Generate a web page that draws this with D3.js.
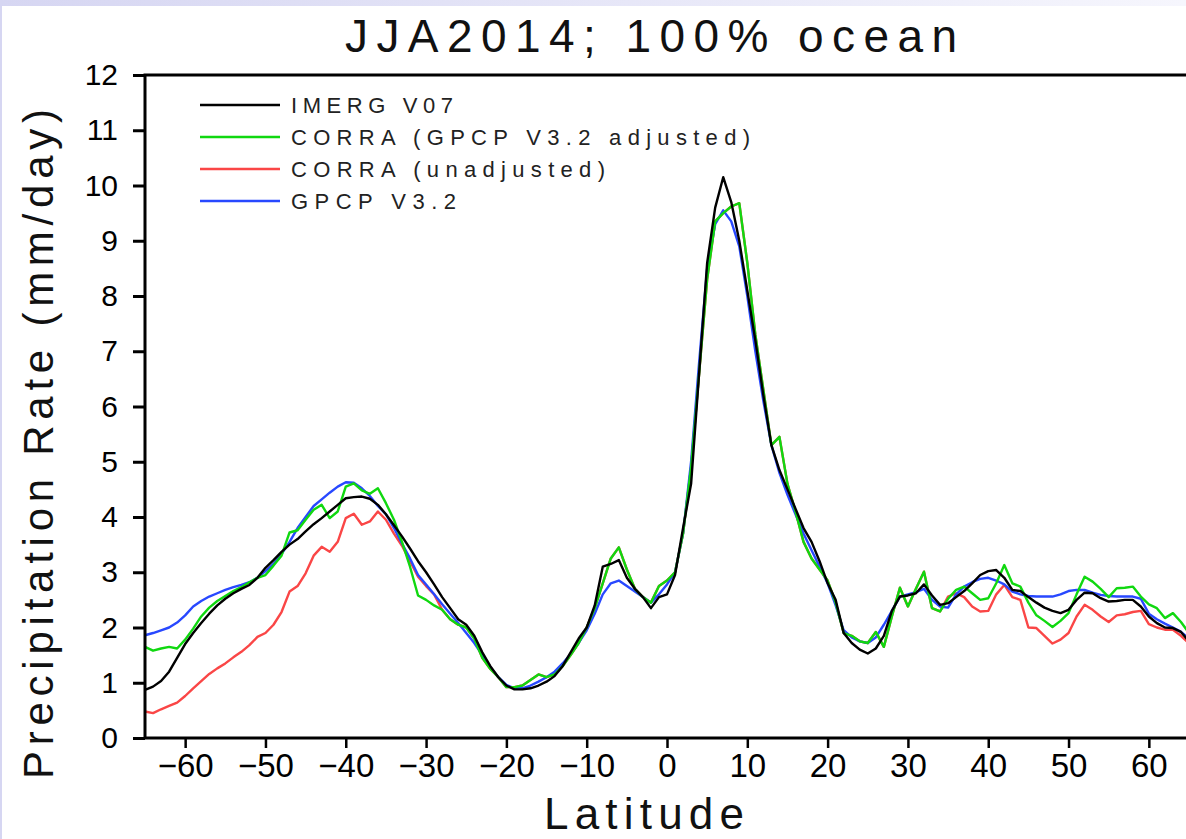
<!DOCTYPE html>
<html>
<head>
<meta charset="utf-8">
<script src="https://cdn.jsdelivr.net/npm/d3@7"></script>
<style>
  html, body { margin: 0; padding: 0; background: #fff; }
  svg { display: block; }
</style>
</head>
<body>
<div id="chart"></div>
<script>
// latitude grid, 1 degree, -65..65
const lats = d3.range(-65, 66, 1);

// IMERG V07
const imerg = [
  0.87, 0.93, 1.03, 1.2, 1.45, 1.7, 1.9, 2.08, 2.25, 2.4,
  2.52, 2.62, 2.7, 2.77, 2.9, 3.08, 3.22, 3.37, 3.5, 3.6,
  3.74, 3.87, 3.98, 4.1, 4.22, 4.34, 4.36, 4.37, 4.33, 4.22,
  4.05, 3.85, 3.65, 3.43, 3.2, 3.0, 2.78, 2.55, 2.35, 2.15,
  2.05, 1.85, 1.55, 1.3, 1.1, 0.95, 0.88, 0.88, 0.9, 0.95,
  1.02, 1.12, 1.3, 1.55, 1.8, 2.0, 2.4, 3.1, 3.15, 3.22,
  2.9, 2.7, 2.55, 2.35, 2.55, 2.6, 2.95, 3.8, 4.6, 6.6,
  8.6, 9.6, 10.15, 9.7, 9.0, 8.1, 7.2, 6.2, 5.3, 4.85,
  4.5, 4.15, 3.8, 3.55, 3.2, 2.8, 2.5, 1.9, 1.72, 1.6,
  1.53, 1.62, 1.85, 2.3, 2.56, 2.58, 2.62, 2.78, 2.58, 2.41,
  2.44, 2.55, 2.66, 2.8, 2.95, 3.02, 3.04, 2.9, 2.68, 2.66,
  2.55, 2.45, 2.36, 2.3, 2.26, 2.32, 2.5, 2.63, 2.62, 2.53,
  2.47, 2.48, 2.5, 2.5, 2.38, 2.2, 2.08, 2.0, 1.99, 1.92,
  1.75
];

// CORRA (GPCP V3.2 adjusted)
const corraAdj = [
  1.65, 1.58, 1.62, 1.65, 1.62, 1.78, 1.98, 2.2, 2.36, 2.48,
  2.57, 2.66, 2.73, 2.82, 2.9, 2.95, 3.12, 3.3, 3.72, 3.76,
  3.95, 4.13, 4.22, 3.98, 4.1, 4.55, 4.61, 4.48, 4.42, 4.52,
  4.25, 3.95, 3.55, 3.1, 2.58, 2.5, 2.4, 2.32, 2.15, 2.05,
  2.0, 1.8, 1.45, 1.25, 1.1, 0.92, 0.92, 0.95, 1.05, 1.15,
  1.1, 1.15, 1.3, 1.5, 1.72, 2.0, 2.35, 2.8, 3.25, 3.45,
  3.05, 2.7, 2.55, 2.45, 2.75, 2.85, 3.0, 3.7, 4.9, 6.6,
  8.3, 9.35, 9.5, 9.62, 9.68, 8.6, 7.3, 6.3, 5.3, 5.45,
  4.6, 4.1, 3.55, 3.25, 3.05, 2.85, 2.45, 1.9, 1.85, 1.75,
  1.72, 1.92, 1.65, 2.2, 2.72, 2.38, 2.7, 3.01, 2.35, 2.29,
  2.52, 2.68, 2.74, 2.62, 2.5, 2.53, 2.8, 3.13, 2.8, 2.74,
  2.45, 2.22, 2.12, 2.01, 2.12, 2.26, 2.6, 2.92, 2.83, 2.7,
  2.55, 2.71, 2.72, 2.74, 2.56, 2.42, 2.35, 2.17, 2.26, 2.1,
  1.9
];

// CORRA (unadjusted)
const corraRaw = [
  0.48, 0.45, 0.52, 0.58, 0.64, 0.76, 0.9, 1.03, 1.16, 1.26,
  1.35, 1.46, 1.56, 1.68, 1.83, 1.9, 2.05, 2.28, 2.65, 2.75,
  2.98, 3.3, 3.46, 3.37, 3.55, 3.98, 4.06, 3.86, 3.92, 4.1,
  3.95, 3.7, 3.48, 3.2, 2.92, 2.75, 2.6, 2.32, 2.15, 2.05,
  2.0, 1.8, 1.45, 1.25, 1.1, 0.92, 0.92, 0.95, 1.05, 1.15,
  1.1, 1.15, 1.3, 1.5, 1.72, 2.0, 2.35, 2.8, 3.25, 3.45,
  3.05, 2.7, 2.55, 2.45, 2.75, 2.85, 3.0, 3.7, 4.9, 6.6,
  8.3, 9.35, 9.5, 9.62, 9.68, 8.6, 7.3, 6.3, 5.3, 5.45,
  4.6, 4.1, 3.55, 3.25, 3.05, 2.85, 2.45, 1.9, 1.85, 1.75,
  1.72, 1.92, 1.65, 2.2, 2.72, 2.38, 2.7, 3.01, 2.35, 2.29,
  2.56, 2.62, 2.55, 2.38, 2.29, 2.3, 2.6, 2.77, 2.55, 2.5,
  2.0, 1.99, 1.85, 1.71, 1.78, 1.9, 2.2, 2.41, 2.32, 2.2,
  2.1, 2.22, 2.24, 2.28, 2.3, 2.06, 2.0, 1.96, 1.96, 1.85,
  1.71
];

// GPCP V3.2
const gpcp = [
  1.86, 1.9, 1.95, 2.0, 2.09, 2.22, 2.38, 2.48, 2.56, 2.62,
  2.68, 2.73, 2.77, 2.82, 2.9, 3.02, 3.15, 3.33, 3.55, 3.8,
  4.0, 4.2, 4.32, 4.44, 4.55, 4.63, 4.62, 4.52, 4.38, 4.2,
  4.05, 3.8, 3.52, 3.25, 2.95, 2.78, 2.6, 2.42, 2.25, 2.08,
  1.9, 1.72, 1.5, 1.28, 1.1, 0.96, 0.9, 0.9, 0.95, 1.02,
  1.1, 1.2, 1.35, 1.52, 1.72, 1.95, 2.25, 2.6, 2.8, 2.85,
  2.75, 2.65, 2.55, 2.45, 2.6, 2.78, 3.0, 3.7, 5.0, 6.8,
  8.5, 9.3, 9.55, 9.35, 8.9, 8.0, 7.0, 6.1, 5.3, 4.8,
  4.4, 4.05, 3.7, 3.4, 3.1, 2.8, 2.4, 1.95, 1.82, 1.75,
  1.72, 1.82, 2.05, 2.3, 2.56, 2.6, 2.64, 2.7, 2.5, 2.38,
  2.36, 2.6, 2.74, 2.82, 2.88, 2.9, 2.85, 2.78, 2.65, 2.6,
  2.57, 2.56, 2.56, 2.56, 2.6, 2.66, 2.68, 2.68, 2.63, 2.59,
  2.57, 2.56, 2.56, 2.56, 2.52, 2.25, 2.15, 2.07, 2.0, 1.92,
  1.8
];

const seriesNames = ["IMERG V07", "CORRA (GPCP V3.2 adjusted)", "CORRA (unadjusted)", "GPCP V3.2"];
const seriesValues = [imerg, corraAdj, corraRaw, gpcp];
const seriesColors = ["#000000", "#10d810", "#fa4646", "#2848ff"];
const drawOrder = [2, 3, 1, 0];

const xTicks = [-60, -50, -40, -30, -20, -10, 0, 10, 20, 30, 40, 50, 60];
const yTicks = d3.range(0, 13, 1);

const width = 1186, height = 839;
const plot = { left: 145, right: 1189, top: 75, bottom: 738 };

const svg = d3.select("#chart").append("svg")
    .attr("width", width)
    .attr("height", height);

// slide background strip
const grad = svg.append("defs").append("linearGradient")
    .attr("id", "bg").attr("x1", "0").attr("x2", "1").attr("y1", "0").attr("y2", "0");
grad.append("stop").attr("offset", "0").attr("stop-color", "#d6d6f2");
grad.append("stop").attr("offset", "1").attr("stop-color", "#f6f6fd");
svg.append("rect").attr("width", width).attr("height", height).attr("fill", "url(#bg)");
svg.append("rect").attr("x", 2).attr("y", 6).attr("width", width - 2).attr("height", height - 6).attr("fill", "#fff");

const x = d3.scaleLinear().domain([-65, 65]).range([plot.left, plot.right]);
const y = d3.scaleLinear().domain([0, 12]).range([plot.bottom, plot.top]);

const font = "'Liberation Sans', Arial, sans-serif";

// lines
const line = d3.line()
    .x((d, i) => x(lats[i]))
    .y(d => y(d));

drawOrder.forEach(k => {
    svg.append("path")
        .datum(seriesValues[k])
        .attr("fill", "none")
        .attr("stroke", seriesColors[k])
        .attr("stroke-width", 2.4)
        .attr("stroke-linejoin", "round")
        .attr("d", line);
});

// frame
svg.append("rect")
    .attr("x", plot.left).attr("y", plot.top)
    .attr("width", plot.right - plot.left).attr("height", plot.bottom - plot.top)
    .attr("fill", "none").attr("stroke", "#000").attr("stroke-width", 3);

// axes
const yAxis = svg.append("g")
    .attr("transform", `translate(${plot.left},0)`)
    .call(d3.axisLeft(y).tickValues(yTicks).tickSize(12).tickPadding(15).tickFormat(d3.format("d")));
yAxis.select(".domain").remove();
yAxis.selectAll("line").attr("stroke-width", 3);
yAxis.selectAll("text")
    .attr("font-family", font).attr("font-size", 30).attr("fill", "#000");

const xAxis = svg.append("g")
    .attr("transform", `translate(0,${plot.bottom})`)
    .call(d3.axisBottom(x).tickValues(xTicks).tickSize(10).tickPadding(6)
        .tickFormat(d => d < 0 ? "\u2212" + Math.abs(d) : d));
xAxis.select(".domain").remove();
xAxis.selectAll("line").attr("stroke-width", 2.5);
xAxis.selectAll("text")
    .attr("font-family", font).attr("font-size", 33).attr("fill", "#000");

// titles
svg.append("text")
    .attr("x", 651).attr("y", 52)
    .attr("text-anchor", "middle")
    .attr("font-family", font).attr("font-size", 46)
    .attr("textLength", 612).attr("lengthAdjust", "spacing")
    .attr("fill", "#111")
    .text("JJA2014; 100% ocean");

svg.append("text")
    .attr("x", 644).attr("y", 829)
    .attr("text-anchor", "middle")
    .attr("font-family", font).attr("font-size", 44)
    .attr("textLength", 200).attr("lengthAdjust", "spacing")
    .attr("fill", "#111")
    .text("Latitude");

svg.append("text")
    .attr("transform", "translate(53,444) rotate(-90)")
    .attr("text-anchor", "middle")
    .attr("font-family", font).attr("font-size", 42)
    .attr("textLength", 670).attr("lengthAdjust", "spacing")
    .attr("fill", "#111")
    .text("Precipitation Rate (mm/day)");

// legend
const legendLens = [162, 459, 314, 165];
const legend = svg.append("g");
seriesNames.forEach((name, i) => {
    const ly = 105 + i * 32;
    legend.append("line")
        .attr("x1", 200).attr("x2", 280).attr("y1", ly).attr("y2", ly)
        .attr("stroke", seriesColors[i]).attr("stroke-width", 2.4);
    legend.append("text")
        .attr("x", 291).attr("y", ly + 8)
        .attr("font-family", font).attr("font-size", 22)
        .attr("textLength", legendLens[i]).attr("lengthAdjust", "spacing")
        .attr("fill", "#222")
        .text(name);
});
</script>
</body>
</html>
